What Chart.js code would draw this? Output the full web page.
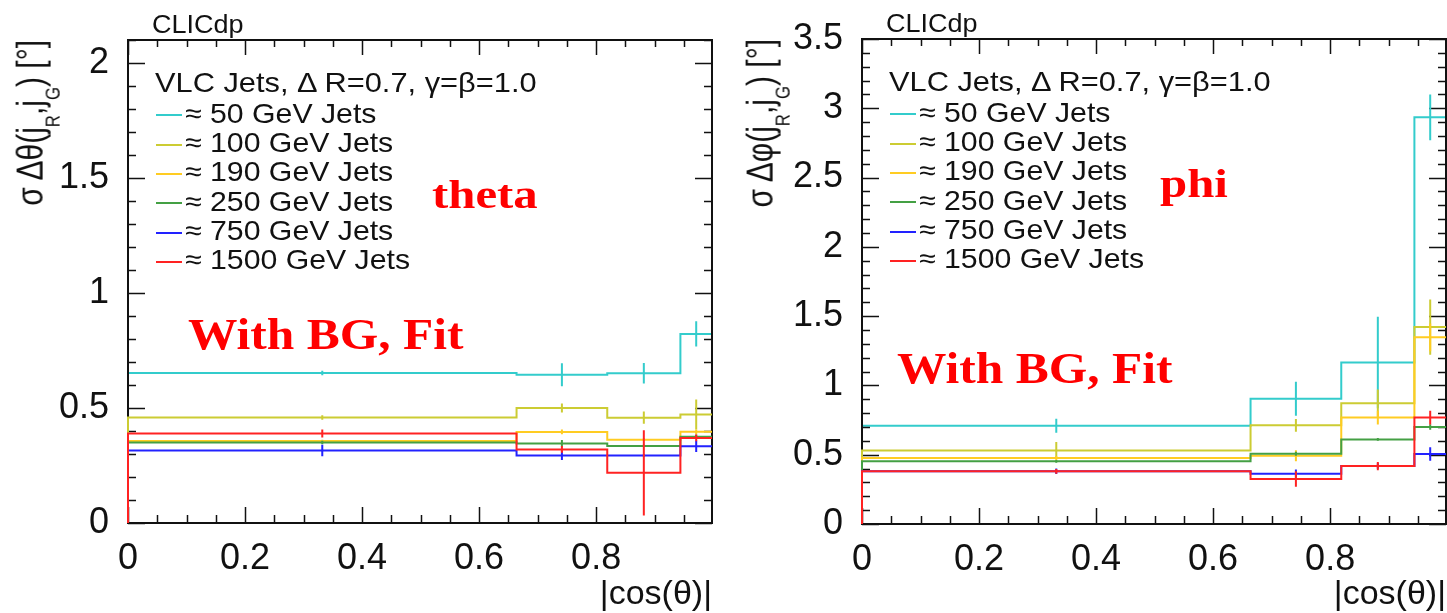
<!DOCTYPE html>
<html><head><meta charset="utf-8">
<script src="https://cdn.jsdelivr.net/npm/chart.js@4.4.0/dist/chart.umd.min.js"></script>
<style>
html,body{margin:0;padding:0;background:#fff;}
body{width:1447px;height:613px;position:relative;overflow:hidden;font-family:"Liberation Sans",Arial,sans-serif;color:#111;}
canvas{position:absolute;top:0;}
.t{position:absolute;white-space:nowrap;line-height:1;}
.mk{position:absolute;height:2px;}
</style></head><body>
<canvas id="cTheta" width="723" height="613" style="left:0;width:723px;height:613px"></canvas>
<canvas id="cPhi" width="724" height="613" style="left:723px;width:724px;height:613px"></canvas>
<script>
// ---------------- data ----------------
const binEdges = [0, 0.664, 0.819, 0.944, 0.998];
const xAxisMax = 0.998;
const xTickLabels = ['0', '0.2', '0.4', '0.6', '0.8'];
const thetaYTickLabels = ['0', '0.5', '1', '1.5', '2'];
const phiYTickLabels = ['0', '0.5', '1', '1.5', '2', '2.5', '3', '3.5'];
const thetaYMax = 2.1;
const phiYMax = 3.5;

const seriesLabels = ['≈ 50 GeV Jets', '≈ 100 GeV Jets', '≈ 190 GeV Jets', '≈ 250 GeV Jets', '≈ 750 GeV Jets', '≈ 1500 GeV Jets'];
const legendHeader = 'VLC Jets, Δ R=0.7, γ=β=1.0';

// sigma Delta theta [deg] per |cos(theta)| bin
const theta50 = [0.652, 0.645, 0.651, 0.822];
const theta50Err = [0.010, 0.050, 0.045, 0.055];
const theta100 = [0.459, 0.500, 0.458, 0.472];
const theta100Err = [0.010, 0.020, 0.027, 0.065];
const theta190 = [0.357, 0.396, 0.362, 0.397];
const theta190Err = [0.005, 0.010, 0.006, 0.010];
const theta250 = [0.350, 0.346, 0.335, 0.375];
const theta250Err = [0.008, 0.015, 0.005, 0.010];
const theta750 = [0.315, 0.294, 0.294, 0.334];
const theta750Err = [0.025, 0.020, 0.006, 0.025];
const theta1500 = [0.389, 0.320, 0.218, 0.370];
const theta1500Err = [0.017, 0.015, 0.185, 0.015];

// sigma Delta phi [deg] per |cos(theta)| bin
const phi50 = [0.709, 0.904, 1.165, 2.935];
const phi50Err = [0.050, 0.123, 0.330, 0.165];
const phi100 = [0.531, 0.712, 0.871, 1.421];
const phi100Err = [0.060, 0.046, 0.100, 0.200];
const phi190 = [0.476, 0.493, 0.768, 1.347];
const phi190Err = [0.015, 0.040, 0.050, 0.100];
const phi250 = [0.452, 0.507, 0.610, 0.700];
const phi250Err = [0.010, 0.015, 0.010, 0.020];
const phi750 = [0.380, 0.363, 0.418, 0.505];
const phi750Err = [0.020, 0.030, 0.020, 0.048];
const phi1500 = [0.380, 0.325, 0.418, 0.768];
const phi1500Err = [0.017, 0.056, 0.030, 0.050];

// ---------------- styles ----------------
const seriesColors = ['#33cccc', '#cccc33', '#ffcc22', '#44a044', '#2222ff', '#ff2222'];
const SANS = '"Liberation Sans", Arial, sans-serif';
const SERIF = '"Liberation Serif", "Times New Roman", serif';
Chart.defaults.font.family = SANS;

const rootFrame = {
  id: 'rootFrame',
  afterDatasetDraw(chart, args, opts) {
    if (args.index !== 0) return;
    const ctx = chart.ctx, a = chart.chartArea, x = chart.scales.x, y = chart.scales.y;
    ctx.save();
    ctx.strokeStyle = '#111';
    ctx.lineWidth = 1.5;
    ctx.beginPath();
    const nx = Math.floor(x.max / opts.xMinor + 1e-6);
    for (let k = 0; k <= nx; k++) {
      const v = k * opts.xMinor;
      const major = k % opts.xDiv === 0;
      const px = Math.round(x.getPixelForValue(v)) + 0.5;
      ctx.moveTo(px, a.bottom); ctx.lineTo(px, a.bottom - (major ? 16 : 8));
      ctx.moveTo(px, a.top); ctx.lineTo(px, a.top + (major ? 15 : 7));
    }
    const ny = Math.floor(y.max / opts.yMinor + 1e-6);
    for (let k = 0; k <= ny; k++) {
      const v = k * opts.yMinor;
      const major = k % opts.yDiv === 0;
      const py = Math.round(y.getPixelForValue(v)) + 0.5;
      ctx.moveTo(a.left, py); ctx.lineTo(a.left + (major ? 17 : 8), py);
      ctx.moveTo(a.right, py); ctx.lineTo(a.right - (major ? 17 : 8), py);
    }
    ctx.stroke();
    ctx.lineWidth = 2;
    ctx.strokeRect(a.left, a.top, a.right - a.left, a.bottom - a.top);
    ctx.restore();
  }
};

function buildChart(id, vals, errs, yMax, yLabels, pad, yWidth, xHeight) {
  const datasets = [];
  vals.forEach((v, i) => {
    const hist = [{x: binEdges[0], y: 0}];
    binEdges.forEach((e, k) => hist.push({x: e, y: v[Math.min(k, v.length - 1)]}));
    datasets.push({type: 'line', label: seriesLabels[i], data: hist, stepped: 'before',
      borderColor: seriesColors[i], borderWidth: 2, pointRadius: 0, fill: false, clip: false, order: 100 - 2 * i});
    const eb = [];
    v.forEach((val, k) => {
      const c = (binEdges[k] + binEdges[k + 1]) / 2;
      eb.push({x: c, y: val - errs[i][k]}, {x: c, y: val + errs[i][k]}, {x: c, y: null});
    });
    datasets.push({type: 'line', label: seriesLabels[i] + ' error', data: eb, spanGaps: false,
      borderColor: seriesColors[i], borderWidth: 2, pointRadius: 0, fill: false, clip: false, order: 99 - 2 * i});
  });
  const tickFont = {family: SANS, size: 36};
  return new Chart(document.getElementById(id), {
    type: 'line',
    data: {datasets},
    options: {
      responsive: false, animation: false, events: [],
      layout: {padding: pad},
      plugins: {legend: {display: false}, tooltip: {enabled: false},
        rootFrame: {xMinor: 0.05, xDiv: 4, yMinor: 0.1, yDiv: 5}},
      scales: {
        x: {type: 'linear', min: 0, max: xAxisMax,
          grid: {display: false}, border: {display: false},
          afterBuildTicks: s => { s.ticks = xTickLabels.map(t => ({value: Number(t)})); },
          ticks: {font: tickFont, color: '#111', padding: 6, maxRotation: 0, autoSkip: false,
            callback: (v, i) => xTickLabels[i]},
          afterFit: s => { s.height = xHeight; }},
        y: {type: 'linear', min: 0, max: yMax,
          grid: {display: false}, border: {display: false},
          afterBuildTicks: s => { s.ticks = yLabels.map(t => ({value: Number(t)})); },
          ticks: {font: tickFont, color: '#111', padding: 11, autoSkip: false,
            callback: (v, i) => yLabels[i]},
          afterFit: s => { s.width = yWidth; }}
      }
    },
    plugins: [rootFrame]
  });
}

buildChart('cTheta',
  [theta50, theta100, theta190, theta250, theta750, theta1500],
  [theta50Err, theta100Err, theta190Err, theta250Err, theta750Err, theta1500Err],
  thetaYMax, thetaYTickLabels, {top: 40, right: 11, bottom: 0, left: 0}, 128, 90);
buildChart('cPhi',
  [phi50, phi100, phi190, phi250, phi750, phi1500],
  [phi50Err, phi100Err, phi190Err, phi250Err, phi750Err, phi1500Err],
  phiYMax, phiYTickLabels, {top: 39, right: 1, bottom: 0, left: 0}, 139, 89);

// ---------------- text overlays ----------------
function addText(html, o) {
  const d = document.createElement('div');
  d.className = 't';
  d.innerHTML = html;
  const fam = o.family || SANS;
  const asc = fam === SERIF ? 0.8375 : 0.8465;
  d.style.font = `${o.weight || 'normal'} ${o.size}px ${fam}`;
  d.style.lineHeight = '1';
  d.style.color = o.color || '#111';
  d.style.top = (o.baseline - asc * o.size) + 'px';
  if (o.align === 'right') { d.style.right = (1447 - o.x) + 'px'; d.style.transformOrigin = '100% 0'; }
  else { d.style.left = o.x + 'px'; d.style.transformOrigin = '0 0'; }
  d.style.transform = `scaleX(${o.sx || 1})`;
  document.body.appendChild(d);
  return d;
}
function addYTitle(html, xTop, yEnd, size, sy) {
  const W = 400;
  const d = document.createElement('div');
  d.className = 't';
  d.innerHTML = html;
  d.style.font = `${size}px ${SANS}`;
  d.style.lineHeight = '1';
  d.style.width = W + 'px';
  d.style.textAlign = 'right';
  d.style.color = '#111';
  d.style.left = (xTop - (0.8465 - 0.716) * size * sy) + 'px';
  d.style.top = (yEnd + W) + 'px';
  d.style.transformOrigin = '0 0';
  d.style.transform = `rotate(-90deg) scaleY(${sy})`;
  document.body.appendChild(d);
}
const sub = s => `<span style="font-size:0.56em;vertical-align:-14px">${s}</span>`;

function panelText(L, T, R, cfg) {
  addText('CLICdp', {x: L + 24, baseline: T - 7, size: 25, sx: 1.08});
  addText(legendHeader, {x: L + 27, baseline: T + 53, size: 28, sx: 1.1});
  seriesLabels.forEach((lab, i) => {
    const bl = T + 83.3 + 29.35 * i;
    const m = document.createElement('div');
    m.className = 'mk';
    m.style.left = (L + 28) + 'px'; m.style.width = '26px';
    m.style.top = (bl - 9) + 'px'; m.style.background = seriesColors[i];
    document.body.appendChild(m);
    addText(lab, {x: L + 57, baseline: bl, size: 28, sx: 1.08});
  });
  addText(cfg.tag, {x: cfg.tagX, baseline: cfg.tagY, size: 40, family: SERIF, weight: 'bold', color: '#ff0000', sx: 1.22});
  addText('With BG, Fit', {x: cfg.bgX, baseline: cfg.bgY, size: 45, family: SERIF, weight: 'bold', color: '#ff0000', sx: 1.1});
  addText('|cos(θ)|', {x: R, baseline: 604, size: 34, align: 'right'});
  addYTitle(cfg.ytitle, cfg.ytX, T, 30, 1.2);
}
panelText(128, 40, 712, {tag: 'theta', tagX: 432, tagY: 208, bgX: 188, bgY: 350,
  ytitle: `σ Δθ(j${sub('R')},j${sub('G')}) [°]`, ytX: 18});
panelText(862, 39, 1446, {tag: 'phi', tagX: 1160, tagY: 197, bgX: 897, bgY: 384,
  ytitle: `σ Δφ(j${sub('R')},j${sub('G')}) [°]`, ytX: 748});
</script>
</body></html>
